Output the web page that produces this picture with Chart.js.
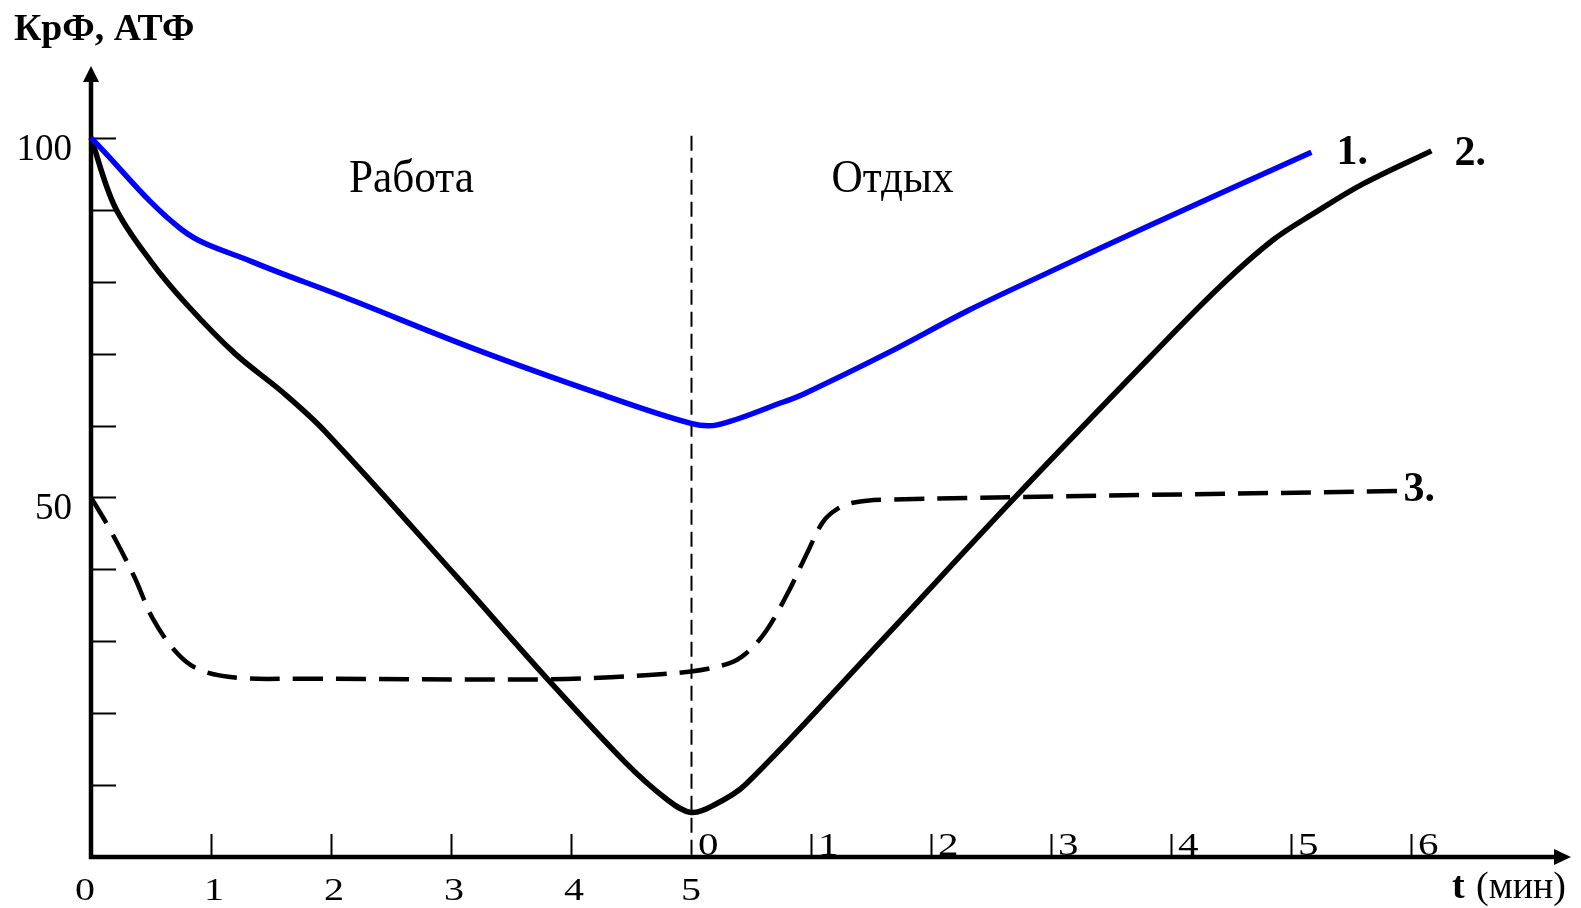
<!DOCTYPE html>
<html lang="ru">
<head>
<meta charset="utf-8">
<title>КрФ, АТФ</title>
<script src="https://cdn.jsdelivr.net/npm/chart.js@4/dist/chart.umd.min.js"></script>
<style>
    html, body { margin: 0; padding: 0; background: #fff; }
    #wrap { position: relative; width: 1581px; height: 908px; }
</style>
</head>
<body>
<div id="wrap"><canvas id="chart"></canvas></div>
<script>
// time axis: work 0..5 min, rest 0..6 min placed after it
const workTicks = [0, 1, 2, 3, 4, 5];
const restTicks = [0, 1, 2, 3, 4, 5, 6];
const restStart = 5;

const yTicks = [10, 20, 30, 40, 50, 60, 70, 80, 90, 100];
const yLabels = [50, 100];

// 1. КрФ
const curve1T = [0, 0.76, 1.34, 2.12, 3.19, 4.24, 5.0, 5.22, 5.74, 5.94, 6.64, 7.31, 7.98, 8.83, 10.17];
const curve1V = [100, 87.2, 82.8, 77.8, 70.7, 64.4, 60.3, 60.1, 63.1, 64.4, 70.1, 76.0, 81.3, 87.9, 98.0];

// 2. АТФ
const curve2T = [0, 0.2, 0.5, 0.8, 1.2, 1.6, 1.95, 3.03, 3.78, 4.45, 4.8, 5.0, 5.2, 5.45, 6.5, 7.7, 8.83, 9.4, 9.85, 10.2, 10.6, 11.17];
const curve2V = [100, 90.4, 82.8, 76.8, 70.0, 64.6, 59.2, 39.3, 25.2, 13.2, 8.0, 6.2, 7.3, 10.0, 28.5, 50.0, 69.6, 79.2, 85.8, 89.6, 93.6, 98.2];

// 3.
const curve3T = [0, 0.16, 0.36, 0.52, 0.72, 0.91, 1.24, 1.74, 3.78, 4.33, 5.0, 5.31, 5.45, 5.62, 5.8, 5.98, 6.1, 6.22, 6.36, 6.6, 10.93];
const curve3V = [50, 45.5, 39.0, 33.0, 28.3, 26.0, 24.9, 24.8, 24.7, 25.0, 25.8, 26.9, 28.2, 31.3, 36.5, 42.7, 46.6, 48.4, 49.3, 49.7, 50.9];

const toPoints = (ts, vs) => ts.map((t, i) => ({ x: t, y: vs[i] }));

const SERIF = '"Liberation Serif", "Times New Roman", serif';

function drawText(ctx, text, x, y, font, align, sx) {
    ctx.save();
    ctx.translate(x, y);
    ctx.scale(sx || 1, 1);
    ctx.font = font;
    ctx.textAlign = align || 'left';
    ctx.textBaseline = 'alphabetic';
    ctx.fillStyle = '#000';
    ctx.fillText(text, 0, 0);
    ctx.restore();
}

// axes with arrows, inner ticks and the work/rest divider
const axesPlugin = {
    id: 'axes',
    beforeDatasetsDraw(chart) {
        const { ctx, chartArea, scales: { x, y } } = chart;
        const x0 = x.getPixelForValue(0);
        const y0 = y.getPixelForValue(0);
        ctx.save();
        ctx.strokeStyle = '#000';
        ctx.fillStyle = '#000';

        // axis lines
        ctx.lineWidth = 4.5;
        ctx.beginPath();
        ctx.moveTo(x0, y0 + 2);
        ctx.lineTo(x0, chartArea.top + 12);
        ctx.moveTo(x0 - 2, y0);
        ctx.lineTo(chartArea.right - 12, y0);
        ctx.stroke();

        // arrow heads
        ctx.beginPath();
        ctx.moveTo(x0, chartArea.top);
        ctx.lineTo(x0 - 8, chartArea.top + 16);
        ctx.lineTo(x0 + 8, chartArea.top + 16);
        ctx.closePath();
        ctx.fill();
        ctx.beginPath();
        ctx.moveTo(chartArea.right, y0);
        ctx.lineTo(chartArea.right - 17, y0 - 8);
        ctx.lineTo(chartArea.right - 17, y0 + 8);
        ctx.closePath();
        ctx.fill();

        // y ticks, pointing into the plot
        ctx.lineWidth = 2;
        ctx.beginPath();
        yTicks.forEach(v => {
            const py = Math.round(y.getPixelForValue(v)) + 0.5;
            ctx.moveTo(x0, py);
            ctx.lineTo(x0 + 25, py);
        });
        // x ticks for work and rest minutes
        workTicks.slice(1, -1).forEach(t => {
            const px = Math.round(x.getPixelForValue(t)) + 0.5;
            ctx.moveTo(px, y0);
            ctx.lineTo(px, y0 - 23);
        });
        restTicks.slice(1).forEach(t => {
            const px = Math.round(x.getPixelForValue(restStart + t)) + 0.5;
            ctx.moveTo(px, y0);
            ctx.lineTo(px, y0 - 23);
        });
        ctx.stroke();

        // divider between work and rest
        const xd = Math.round(x.getPixelForValue(restStart)) + 0.5;
        ctx.setLineDash([15, 7]);
        ctx.beginPath();
        ctx.moveTo(xd, y.getPixelForValue(100.3));
        ctx.lineTo(xd, y0);
        ctx.stroke();
        ctx.restore();
    },
    afterDatasetsDraw(chart) {
        const { ctx, scales: { x, y } } = chart;
        const x0 = x.getPixelForValue(0);
        const y0 = y.getPixelForValue(0);

        // y labels
        yLabels.forEach(v => {
            drawText(ctx, String(v), x0 - 19, y.getPixelForValue(v) + 22, '37px ' + SERIF, 'right', 1);
        });

        // work minutes below the axis
        workTicks.forEach(t => {
            const px = x.getPixelForValue(t) - (t === 0 ? 6 : 0) + (t > 0 && t < 5 ? 3 : 0);
            drawText(ctx, String(t), px, y0 + 43, '32px ' + SERIF, 'center', 1.25);
        });
        // rest minutes above the axis, right of each tick
        restTicks.forEach(t => {
            const px = x.getPixelForValue(restStart + t);
            drawText(ctx, String(t), px + 7, y0 - 2, '32px ' + SERIF, 'left', 1.28);
        });

        // titles
        drawText(ctx, 'КрФ, АТФ', 14, 40, 'bold 37px ' + SERIF, 'left', 1.02);
        drawText(ctx, 't', 1452, 898, 'bold 38px ' + SERIF, 'left', 1);
        drawText(ctx, '(мин)', 1476, 898, '38px ' + SERIF, 'left', 1);

        drawText(ctx, 'Работа', x.getPixelForValue(2.67), y.getPixelForValue(92.5), '47px ' + SERIF, 'center', 0.92);
        drawText(ctx, 'Отдых', x.getPixelForValue(6.68), y.getPixelForValue(92.5), '47px ' + SERIF, 'center', 0.92);

        // curve numbers at the ends of the lines
        const tags = [
            ['1.', curve1T, curve1V, 25, 12],
            ['2.', curve2T, curve2V, 23, 14],
            ['3.', curve3T, curve3V, 1, 10]
        ];
        tags.forEach(([txt, ts, vs, dx, dy]) => {
            const n = ts.length - 1;
            drawText(ctx, txt, x.getPixelForValue(ts[n]) + dx, y.getPixelForValue(vs[n]) + dy, 'bold 42px ' + SERIF, 'left', 1);
        });
    }
};

new Chart(document.getElementById('chart'), {
    type: 'line',
    data: {
        datasets: [
            {
                label: '1.',
                data: toPoints(curve1T, curve1V),
                borderColor: '#0000ff',
                borderWidth: 5.5
            },
            {
                label: '2.',
                data: toPoints(curve2T, curve2V),
                borderColor: '#000',
                borderWidth: 5.5
            },
            {
                label: '3.',
                data: toPoints(curve3T, curve3V),
                borderColor: '#000',
                borderWidth: 4.5,
                borderDash: [30, 13]
            }
        ]
    },
    options: {
        responsive: true,
        maintainAspectRatio: false,
        animation: false,
        events: [],
        layout: { padding: { left: 91, right: 10, top: 66, bottom: 51 } },
        datasets: {
            line: {
                tension: 0.35,
                pointRadius: 0,
                fill: false,
                clip: false,
                borderCapStyle: 'butt',
                borderJoinStyle: 'round'
            }
        },
        plugins: {
            legend: { display: false },
            tooltip: { enabled: false }
        },
        scales: {
            x: { type: 'linear', min: 0, max: 12.3333, display: false },
            y: { type: 'linear', min: 0, max: 110, display: false }
        }
    },
    plugins: [axesPlugin]
});
</script>
</body>
</html>
